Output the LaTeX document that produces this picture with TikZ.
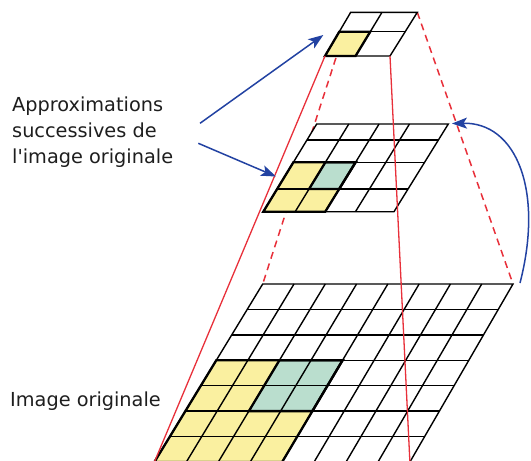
\documentclass[tikz,border=0pt]{standalone}
\usepackage{fontspec}
\setmainfont{DejaVu Sans}
\usetikzlibrary{calc,arrows.meta}
\definecolor{redl}{RGB}{232,48,58}
\definecolor{bluel}{RGB}{34,66,162}
\definecolor{yelc}{RGB}{250,240,160}
\definecolor{grnc}{RGB}{186,222,206}
\definecolor{txtc}{RGB}{30,30,30}
% grid parameters: x top-left, width top, x bottom-left, width bottom, y top, y bottom
\newcommand\setgrid[6]{\def\gxa{#1}\def\gwt{#2}\def\gxb{#3}\def\gwb{#4}\def\gyt{#5}\def\gyb{#6}}
\newcommand\Q[2]{({(1-(#2))*(\gxa+(#1)*\gwt)+(#2)*(\gxb+(#1)*\gwb)},{\gyt+(#2)*(\gyb-\gyt)})}
\newcommand\cell[4]{\Q{#1}{#3} -- \Q{#2}{#3} -- \Q{#2}{#4} -- \Q{#1}{#4} -- cycle}
\begin{document}
\begin{tikzpicture}[x=1pt,y=-1pt,line join=miter,
  gridline/.style={black,line width=1.4pt},
  boldline/.style={black,line width=2.3pt},
  redsolid/.style={redl,line width=1.3pt},
  reddash/.style={redl,line width=1.5pt,dash pattern=on 7pt off 5pt},
  bluearrow/.style={bluel,line width=1.5pt,-{Stealth[length=15pt,width=11pt,inset=3.5pt]}},
  lbl/.style={text=txtc,font=\fontsize{19.3}{25.7}\selectfont,align=left,inner sep=0pt,anchor=base west}]
\useasboundingbox (0,0) rectangle (531,461);

% corner coordinates
\coordinate (tTL) at (350.7,12.3);
\coordinate (tTR) at (417.3,12.3);
\coordinate (tBL) at (325,56);
\coordinate (tBR) at (390,56);
\coordinate (mTR) at (448.3,124);
\coordinate (bTL) at (262.7,284);
\coordinate (bTR) at (513,284);
\coordinate (bBL) at (154.4,462);
\coordinate (bBR) at (409.9,462);

% dashed projection lines (behind the grids)
\draw[reddash] (tTL) -- (bTL);
\draw[reddash] (tTR) -- (bTR);

% ---------- bottom grid ----------
\setgrid{262.7}{250.3}{154.4}{255.5}{284}{462}
\fill[white] \cell{0}{1}{0}{1};
\fill[yelc] \cell{0}{0.5}{3/7}{1};
\fill[grnc] \cell{0.25}{0.5}{3/7}{5/7};
\foreach \i in {1,...,7}{\draw[gridline] \Q{\i/8}{0} -- \Q{\i/8}{1};}
\foreach \j in {1,...,6}{\draw[gridline] \Q{0}{\j/7} -- \Q{1}{\j/7};}
\draw[gridline] \cell{0}{1}{0}{1};
\draw[boldline] \cell{0}{0.5}{3/7}{1};
\draw[boldline] \cell{0.25}{0.5}{3/7}{5/7};

% ---------- middle grid ----------
\setgrid{316.7}{131.6}{263.3}{130.7}{124}{211.7}
\fill[white] \cell{0}{1}{0}{1};
\fill[yelc] \cell{0}{0.474}{0.437}{1};
\fill[grnc] \cell{0.244}{0.474}{0.437}{0.741};
\foreach \u in {0.244,0.474,0.705}{\draw[gridline] \Q{\u}{0} -- \Q{\u}{1};}
\foreach \v in {0.182,0.437,0.741}{\draw[gridline] \Q{0}{\v} -- \Q{1}{\v};}
\draw[gridline] \cell{0}{1}{0}{1};
\draw[boldline] \cell{0}{0.474}{0.437}{1};
\draw[boldline] \cell{0.244}{0.474}{0.437}{0.741};

% ---------- top grid ----------
\setgrid{350.7}{66.6}{325}{65}{12.3}{56}
\fill[white] \cell{0}{1}{0}{1};
\fill[yelc] \cell{0}{0.47}{0.444}{1};
\draw[gridline] \Q{0.47}{0} -- \Q{0.47}{1};
\draw[gridline] \Q{0}{0.444} -- \Q{1}{0.444};
\draw[gridline] \cell{0}{1}{0}{1};
\draw[boldline] \cell{0}{0.47}{0.444}{1};

% solid projection lines (in front)
\draw[redsolid] (tBL) -- (bBL);
\draw[redsolid] (tBR) -- (bBR);

% labels (base anchor = baseline of the last line)
\node[lbl] (approx) at (12,163.1) {Approximations\\successives de\\l\textquotesingle image originale};
\node[lbl] (orig) at (10,406.7) {Image originale};

% blue arrows
\coordinate (a1s) at (200,123.3);
\coordinate (a1e) at (323.3,35);
\coordinate (a2s) at (198.3,143.3);
\coordinate (a2e) at (276,176.5);
\draw[bluearrow] (a1s) -- (a1e);
\draw[bluearrow] (a2s) -- (a2e);
\coordinate (cS) at (520,283);
\coordinate (cE) at (452,123.5);
\draw[bluearrow] (cS) .. controls (544,190) and (516,122) .. (cE);
\end{tikzpicture}
\end{document}
